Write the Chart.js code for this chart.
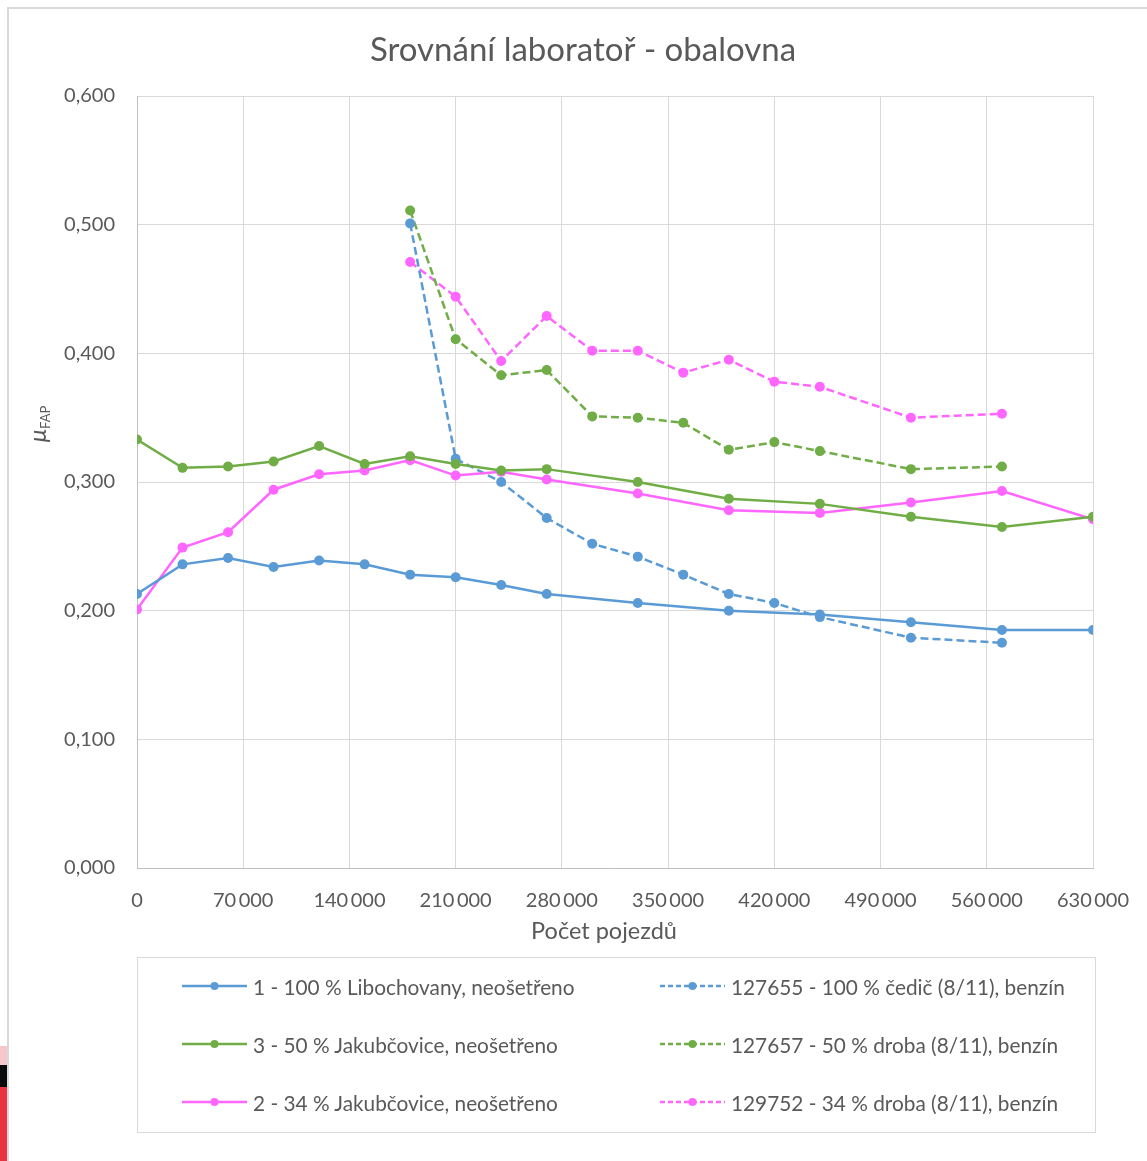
<!DOCTYPE html>
<html><head><meta charset="utf-8">
<script src="https://cdn.jsdelivr.net/npm/chart.js@4.4.1/dist/chart.umd.min.js"></script>
<style>
html,body{margin:0;padding:0;background:#fff;width:1147px;height:1161px;overflow:hidden;position:relative;font-family:Lato,"Liberation Sans",sans-serif}
#frame{position:absolute;left:7px;top:7px;width:1300px;height:1300px;border:2px solid #d9d9d9;box-sizing:border-box}
#wrap{position:absolute;left:0;top:0;width:1147px;height:960px}
#legend{position:absolute;left:137px;top:957px;width:959px;height:176px;border:1.5px solid #d9d9d9;box-sizing:border-box}
.item{position:absolute;display:flex;align-items:center;font-size:20.8px;color:#595959;white-space:nowrap;height:24px}
.item svg{margin-right:6px}
.deco{position:absolute;left:0;width:7px}
</style>
</head><body>
<div id="frame"></div>
<div class="deco" style="top:1046px;height:19px;background:#f7c6c9"></div>
<div class="deco" style="top:1065px;height:22px;background:#0a0a0a"></div>
<div class="deco" style="top:1087px;height:74px;background:#e8343f"></div>
<div id="wrap"><canvas id="c" width="1147" height="960"></canvas></div>
<div id="legend"></div>
<script>
// ---- data ----
const titleText = 'Srovnání laboratoř - obalovna';
const xTitle = 'Počet pojezdů';
const xSolid = [0,30000,60000,90000,120000,150000,180000,210000,240000,270000,330000,390000,450000,510000,570000,630000];
const blueSolid  = [0.213,0.236,0.241,0.234,0.239,0.236,0.228,0.226,0.220,0.213,0.206,0.200,0.197,0.191,0.185,0.185];
const greenSolid = [0.333,0.311,0.312,0.316,0.328,0.314,0.320,0.314,0.309,0.310,0.300,0.287,0.283,0.273,0.265,0.273];
const pinkSolid  = [0.201,0.249,0.261,0.294,0.306,0.309,0.317,0.305,0.308,0.302,0.291,0.278,0.276,0.284,0.293,0.271];
const xDashed = [180000,210000,240000,270000,300000,330000,360000,390000,420000,450000,510000,570000];
const blueDashed  = [0.501,0.318,0.300,0.272,0.252,0.242,0.228,0.213,0.206,0.195,0.179,0.175];
const greenDashed = [0.511,0.411,0.383,0.387,0.351,0.350,0.346,0.325,0.331,0.324,0.310,0.312];
const pinkDashed  = [0.471,0.444,0.394,0.429,0.402,0.402,0.385,0.395,0.378,0.374,0.350,0.353];
const labels = {
  blueSolid:'1 - 100 % Libochovany, neošetřeno',
  blueDashed:'127655 - 100 % čedič (8/11), benzín',
  greenSolid:'3 - 50 % Jakubčovice, neošetřeno',
  greenDashed:'127657 - 50 % droba (8/11), benzín',
  pinkSolid:'2 - 34 % Jakubčovice, neošetřeno',
  pinkDashed:'129752 - 34 % droba (8/11), benzín'
};
const xTicks = [0,70000,140000,210000,280000,350000,420000,490000,560000,630000];
const yTicks = [0,0.1,0.2,0.3,0.4,0.5,0.6];

const BLUE='#5b9bd5', GREEN='#70ad47', PINK='#ff66ff';
const DASH=[8,4];
function pts(xs,ys){return xs.map((x,i)=>({x:x,y:ys[i]}));}
function ds(label,xs,ys,color,dashed){
  return {label:label,data:pts(xs,ys),borderColor:color,backgroundColor:color,pointBackgroundColor:color,
    pointBorderColor:color,borderWidth:2.5,pointRadius:5,pointBorderWidth:0,borderDash:dashed?DASH:[],
    tension:0,fill:false};
}
const datasets=[
  ds(labels.blueSolid,xSolid,blueSolid,BLUE,false),
  ds(labels.greenSolid,xSolid,greenSolid,GREEN,false),
  ds(labels.pinkSolid,xSolid,pinkSolid,PINK,false),
  ds(labels.blueDashed,xDashed,blueDashed,BLUE,true),
  ds(labels.greenDashed,xDashed,greenDashed,GREEN,true),
  ds(labels.pinkDashed,xDashed,pinkDashed,PINK,true)
];
const TXT='#595959', GRID='#d9d9d9';
const FONT='Lato';

const textPlugin={id:'texts',afterDraw(chart){
  const ctx=chart.ctx; ctx.save();
  ctx.fillStyle=TXT; ctx.textAlign='center'; ctx.textBaseline='middle';
  ctx.font='33px '+FONT; ctx.fillText(titleText,583,50);
  ctx.font='23.5px '+FONT; ctx.fillText(xTitle,604,931);
  ctx.restore();
  ctx.save();
  ctx.translate(46,424); ctx.rotate(-Math.PI/2);
  ctx.fillStyle=TXT; ctx.textBaseline='alphabetic'; ctx.textAlign='left';
  ctx.font='italic 24px '+FONT; const w1=ctx.measureText('μ').width;
  ctx.font='13px '+FONT; const w2=ctx.measureText('FAP').width;
  const start=-(w1+w2)/2;
  ctx.font='italic 24px '+FONT; ctx.fillText('μ',start,0);
  ctx.font='13px '+FONT; ctx.fillText('FAP',start+w1,4);
  ctx.restore();
}};

const chart=new Chart(document.getElementById('c'),{
  type:'line',
  data:{datasets:datasets},
  plugins:[textPlugin],
  options:{
    responsive:false,animation:false,
    layout:{padding:{left:0,right:54,top:96,bottom:0}},
    plugins:{legend:{display:false},tooltip:{enabled:false},title:{display:false}},
    scales:{
      x:{type:'linear',min:0,max:630000,
        afterBuildTicks:s=>{s.ticks=xTicks.map(v=>({value:v}));},
        ticks:{color:TXT,font:{family:FONT,size:20},padding:21,maxRotation:0,autoSkip:false,
          callback:v=>v===0?'0':String(v).replace(/\B(?=(\d{3})+(?!\d))/g,'\u2009')},
        grid:{color:GRID,drawTicks:false,lineWidth:1},
        border:{color:'#bfbfbf',width:1},
        afterFit:s=>{s.height=92;s.paddingLeft=0;s.paddingRight=0;}
      },
      y:{type:'linear',min:0,max:0.6,
        afterBuildTicks:s=>{s.ticks=yTicks.map(v=>({value:v}));},
        ticks:{color:TXT,font:{family:FONT,size:20},padding:22,
          callback:v=>v.toFixed(3).replace('.',',')},
        grid:{color:GRID,drawTicks:false,lineWidth:1},
        border:{color:'#bfbfbf',width:1},
        afterFit:s=>{s.width=137;s.paddingTop=0;s.paddingBottom=0;}
      }
    }
  }
});

// HTML legend built from the chart datasets
const leg=document.getElementById('legend');
const order=[0,3,1,4,2,5];
const colX=[44,522], rowY=[16,74,132];
order.forEach((di,k)=>{
  const d=chart.data.datasets[di];
  const col=k%2, row=Math.floor(k/2);
  const el=document.createElement('div'); el.className='item';
  el.style.left=colX[col]+'px'; el.style.top=rowY[row]+'px';
  const dash=d.borderDash.length?'stroke-dasharray="5,3"':'';
  el.innerHTML='<svg width="65" height="12"><line x1="0" y1="6" x2="65" y2="6" stroke="'+d.borderColor+'" stroke-width="2.5" '+dash+'/><circle cx="32.5" cy="6" r="4" fill="'+d.borderColor+'"/></svg><span>'+d.label+'</span>';
  leg.appendChild(el);
});
</script>
</body></html>
